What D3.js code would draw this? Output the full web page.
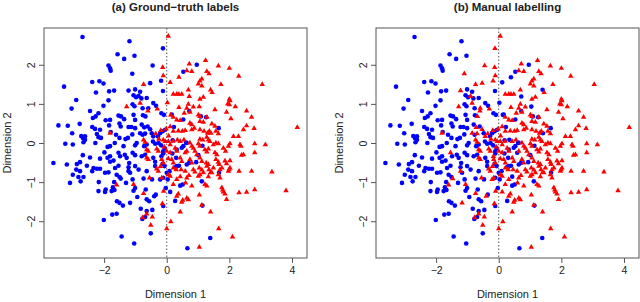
<!DOCTYPE html>
<html>
<head>
<meta charset="utf-8">
<script src="https://cdn.jsdelivr.net/npm/d3@7"></script>
<style>
  body { margin: 0; background: #fff; }
  text { font-family: "Liberation Sans", Arial, sans-serif; fill: #222; }
</style>
</head>
<body>
<div id="chart"></div>
<script>
// titles and tick values
var titles = ["(a) Ground\u2212truth labels", "(b) Manual labelling"];
var xTicks = [-2, 0, 2, 4];
var yTicks = [-2, -1, 0, 1, 2];

// points blue in both panels (ground truth blue, manual blue)
var bothBlue = [
  [-2.69,2.71],[-1.19,2.60],[-1.57,2.27],[-1.03,2.23],[-1.36,2.15],[-1.86,1.98],[-1.81,1.91],[-1.79,1.85],
  [0.96,2.00],[0.53,1.82],[-3.28,1.44],[-2.38,1.56],[-2.15,1.58],[-2.02,1.52],[-2.26,1.29],[-1.84,1.32],
  [-1.68,1.34],[-1.01,1.37],[-0.85,1.31],[-0.12,1.33],[-2.89,1.10],[-3.04,0.88],[-2.45,0.82],[-1.86,1.09],
  [-2.02,0.95],[-1.06,1.22],[-0.98,1.17],[-0.81,1.14],[-0.64,1.15],[-1.09,0.99],[-1.03,0.94],[-0.77,0.89],
  [-0.43,1.02],[-0.34,0.95],[-0.17,0.76],[-0.09,0.72],[-2.18,0.76],[-2.27,0.68],[-2.36,0.64],[-1.95,0.58],
  [-1.81,0.59],[-1.54,0.70],[-1.46,0.68],[-1.36,0.61],[-1.06,0.72],[-1.01,0.59],[-0.76,0.71],[-3.46,0.45],
  [-3.16,0.44],[-2.78,0.49],[-2.38,0.41],[-2.29,0.36],[-2.13,0.34],[-1.84,0.45],[-1.51,0.50],[-1.47,0.42],
  [-1.22,0.41],[-1.13,0.41],[-1.01,0.38],[-0.80,0.47],[-0.61,0.42],[-3.02,0.25],[-2.73,0.18],[-2.68,0.13],
  [-2.61,0.17],[-2.23,0.23],[-2.18,0.15],[-2.10,0.13],[-1.79,0.28],[-1.62,0.21],[-1.51,0.13],[-1.32,0.10],
  [-1.24,0.13],[-1.10,0.22],[-0.77,0.21],[-0.48,0.25],[-0.28,0.17],[-0.21,0.25],[-0.13,0.30],[-0.05,0.34],
  [-3.24,-0.02],[-3.00,-0.04],[-2.66,0.02],[-2.61,0.08],[-2.28,0.00],[-1.89,-0.10],[-1.81,-0.08],[-1.66,0.00],
  [-1.38,-0.08],[-1.01,-0.06],[-0.96,0.00],[-0.72,-0.08],[-0.64,-0.04],[-0.44,0.04],[-0.37,-0.02],[-0.26,0.00],
  [-0.18,-0.06],[-0.07,-0.13],[-0.11,-0.21],[-2.68,-0.31],[-2.45,-0.37],[-2.13,-0.40],[-1.99,-0.24],[-1.89,-0.38],
  [-1.81,-0.34],[-1.70,-0.45],[-1.49,-0.34],[-1.34,-0.30],[-1.28,-0.38],[-1.09,-0.25],[-1.01,-0.31],[-0.80,-0.34],
  [-0.69,-0.30],[-0.43,-0.38],[-0.37,-0.48],[-0.11,-0.27],[0.18,-0.27],[0.32,-0.17],[0.53,-0.08],[0.64,0.00],
  [-3.62,-0.51],[-3.19,-0.55],[-2.87,-0.54],[-2.77,-0.49],[-2.55,-0.58],[-2.34,-0.64],[-2.23,-0.66],[-2.89,-0.68],
  [-2.77,-0.72],[-3.00,-0.81],[-2.82,-0.87],[-2.66,-0.87],[-2.38,-0.72],[-2.13,-0.66],[-1.97,-0.76],[-1.86,-0.75],
  [-1.81,-0.48],[-1.65,-0.64],[-1.54,-0.58],[-1.60,-0.81],[-1.51,-0.87],[-1.22,-0.62],[-1.20,-0.51],[-1.17,-0.76],
  [-1.01,-0.59],[-0.90,-0.68],[-0.64,-0.72],[-0.37,-0.59],[-0.13,-0.53],[-0.07,-0.59],[0.00,-0.76],[0.09,-0.72],
  [0.32,-0.59],[0.39,-0.58],[0.64,-0.55],[0.71,-0.51],[-3.09,-1.02],[-2.75,-0.98],[-2.17,-1.00],[-1.68,-1.00],
  [-1.30,-1.02],[-1.09,-0.93],[-0.74,-0.91],[-0.47,-0.93],[-0.11,-0.89],[0.03,-0.93],[1.67,-0.76],[1.12,-0.98],
  [-2.18,-1.23],[-1.97,-1.25],[-1.95,-1.19],[-1.72,-1.13],[-1.76,-1.23],[-1.67,-1.20],[-1.06,-1.22],[-1.01,-1.15],
  [-0.67,-1.19],[-0.35,-1.32],[-0.03,-1.15],[0.43,-1.09],[0.51,-1.06],[-1.59,-1.49],[-1.51,-1.53],[-1.40,-1.60],
  [-0.94,-1.38],[-0.64,-1.44],[-0.56,-1.49],[-0.11,-1.61],[0.27,-1.48],[-1.74,-1.83],[-1.60,-1.81],[-0.83,-1.68],
  [-0.78,-1.94],[-0.69,-1.89],[-0.64,-1.74],[-0.46,-1.71],[-2.01,-1.97],[-0.51,-2.31],[-1.44,-2.39],[-1.04,-2.57],
  [1.39,-2.43],[0.66,-2.69],[1.66,0.38],[0.16,0.73],[0.72,0.82],[0.53,0.60],[1.09,0.68],[1.26,0.66],
  [0.23,0.41],[0.19,0.07],[0.62,0.01],[0.48,-0.12],[1.14,-0.07],[0.30,-0.38],[1.01,-0.31],[0.94,-0.49],
  [0.30,-0.61],[1.14,-1.60]
];

// ground truth blue, manual red
var blueToRed = [
  [-0.12,2.42],[-0.45,1.98],[-1.10,1.77],[-1.22,1.34],[-0.53,1.53],[-0.18,1.59],[-0.90,1.20],[-0.59,0.89],
  [-0.68,0.68],[-0.72,0.40],[-0.53,0.35],[-0.85,0.25],[-0.69,0.24],[-0.43,0.17],[-1.54,-0.25],[-0.17,-0.34],
  [-1.47,-0.91],[-1.22,-0.72],[-0.21,-0.93],[-0.40,-1.36],[0.11,-1.25],[-1.17,-1.53]
];

// points red in both panels
var bothRed = [
  [0.05,2.73],[-0.13,1.93],[-0.11,1.72],[0.72,2.02],[1.24,2.11],[1.65,1.97],[2.00,1.91],[0.64,1.85],
  [0.80,1.83],[1.28,1.83],[1.35,1.77],[1.06,1.59],[1.12,1.64],[1.01,1.51],[1.12,1.46],[1.73,1.50],
  [2.30,1.71],[3.05,1.50],[-0.74,1.50],[0.21,1.25],[0.32,1.25],[0.39,1.25],[0.48,1.25],[0.69,1.36],
  [1.45,1.29],[1.06,1.12],[1.17,1.17],[2.00,1.12],[2.02,1.08],[1.95,1.00],[2.00,0.98],[2.19,0.93],
  [2.55,0.82],[-1.28,0.93],[-0.85,1.02],[-0.30,0.87],[-0.60,0.82],[0.39,0.91],[0.69,0.99],[0.64,0.89],
  [0.85,0.92],[1.54,0.85],[0.21,0.66],[0.56,0.76],[0.74,0.79],[1.01,0.72],[1.06,0.68],[1.28,0.66],
  [1.91,0.79],[2.05,0.62],[2.71,0.66],[0.32,0.59],[0.43,0.58],[0.74,0.51],[0.80,0.47],[1.06,0.55],
  [1.17,0.53],[1.44,0.49],[1.54,0.43],[2.55,0.44],[2.45,0.34],[2.79,0.37],[4.17,0.40],[-1.81,0.25],
  [-0.02,0.36],[0.11,0.42],[0.21,0.30],[0.37,0.31],[0.50,0.30],[0.59,0.32],[0.80,0.34],[0.88,0.38],
  [1.06,0.34],[1.19,0.30],[1.30,0.25],[1.36,0.30],[1.57,0.30],[1.65,0.24],[1.28,0.15],[1.33,0.08],
  [1.06,0.10],[1.15,0.08],[2.13,0.17],[2.29,0.17],[-0.74,0.08],[-0.69,0.02],[-0.19,0.32],[-0.35,0.24],
  [-0.11,0.08],[-0.05,0.04],[0.05,0.04],[0.11,-0.04],[0.43,0.04],[0.55,0.08],[0.74,0.00],[0.80,-0.08],
  [0.85,-0.13],[1.01,-0.02],[1.06,-0.08],[1.38,0.04],[1.49,-0.04],[1.57,0.00],[1.65,-0.02],[2.02,-0.02],
  [1.97,-0.08],[2.34,-0.04],[2.37,-0.08],[2.81,-0.02],[3.15,-0.04],[-0.25,0.10],[0.06,0.18],[0.20,0.05],
  [-0.64,-0.17],[-0.59,-0.21],[-0.32,-0.15],[-0.27,-0.21],[0.00,-0.21],[0.11,-0.25],[0.27,-0.13],[0.32,-0.21],
  [0.64,-0.21],[0.90,-0.21],[0.96,-0.30],[1.22,-0.17],[1.28,-0.23],[1.33,-0.15],[1.54,-0.25],[1.60,-0.30],
  [1.81,-0.13],[1.88,-0.21],[2.39,-0.31],[2.45,-0.30],[2.81,-0.25],[-0.08,-0.10],[0.05,-0.40],[-0.64,-0.38],
  [-0.59,-0.42],[-0.16,-0.42],[-0.11,-0.51],[0.16,-0.42],[0.21,-0.51],[0.43,-0.38],[0.48,-0.47],[0.74,-0.42],
  [0.80,-0.51],[1.06,-0.38],[1.12,-0.47],[1.26,-0.51],[1.28,-0.59],[1.33,-0.55],[1.57,-0.42],[1.65,-0.49],
  [1.86,-0.46],[1.91,-0.53],[2.02,-0.45],[-0.32,-0.66],[-0.27,-0.72],[-0.20,-0.60],[0.21,-0.64],[0.30,-0.68],
  [0.46,-0.68],[0.59,-0.72],[0.85,-0.68],[0.90,-0.74],[1.04,-0.64],[1.12,-0.69],[1.17,-0.76],[1.35,-0.68],
  [1.40,-0.75],[1.49,-0.64],[1.67,-0.55],[1.70,-0.68],[1.76,-0.64],[1.99,-0.68],[2.02,-0.64],[1.97,-0.72],
  [2.31,-0.72],[2.71,-0.72],[3.36,-0.74],[-0.55,-0.89],[-0.16,-0.89],[0.05,-0.81],[0.11,-0.85],[0.32,-0.93],
  [0.64,-0.89],[0.71,-0.83],[1.01,-0.85],[1.06,-0.81],[1.33,-0.86],[1.44,-0.76],[1.65,-0.81],[1.70,-0.89],
  [-1.60,-1.07],[-1.06,-1.06],[0.21,-1.06],[0.60,-1.02],[0.80,-1.10],[1.22,-1.06],[1.28,-1.10],[1.76,-1.14],
  [1.79,-1.20],[1.81,-1.25],[1.86,-1.30],[2.31,-1.27],[2.55,-1.26],[2.81,-1.19],[3.81,-1.22],[-0.74,-1.29],
  [-0.10,-1.23],[0.32,-1.36],[0.37,-1.30],[0.64,-1.41],[0.69,-1.45],[1.04,-1.33],[1.91,-1.44],[0.48,-1.51],
  [0.51,-1.46],[-0.14,-1.55],[1.12,-1.59],[0.43,-1.76],[1.40,-1.76],[-0.64,-1.81],[-0.46,-1.89],[-0.77,-1.91],
  [0.13,-2.01],[-0.51,-2.10],[0.00,-2.19],[1.66,-2.19],[2.10,-2.40],[1.04,-2.66]
];

// ground truth red, manual blue
var redToBlue = [
  [0.39,1.68],[0.11,1.55],[1.40,1.36],[1.04,0.93],[0.72,1.19],[0.02,1.03],[0.13,0.72],[1.41,0.25],
  [0.34,0.08],[0.59,-0.25],[0.43,-0.86]
];

var W = 640, H = 302;
var svg = d3.select("#chart").append("svg")
  .attr("width", W)
  .attr("height", H);

var x = d3.scaleLinear().domain([-3.92, 4.48]).range([0, 263]);
var y = d3.scaleLinear().domain([-2.94, 2.94]).range([230, 0]);

var triangle = d3.symbol().type(d3.symbolTriangle).size(13);

function drawPanel(left, title, blues, reds) {
  var g = svg.append("g")
    .attr("transform", "translate(" + left + ",28)");

  // dotted zero line
  g.append("line")
    .attr("x1", x(0)).attr("x2", x(0))
    .attr("y1", 0).attr("y2", 230)
    .attr("stroke", "#555")
    .attr("stroke-width", 1)
    .attr("stroke-dasharray", "1.5,2");

  // points: blue circles first, red triangles over them
  g.selectAll("circle.blue")
    .data(blues)
    .enter()
    .append("circle")
    .attr("class", "blue")
    .attr("cx", function(d) { return x(d[0]); })
    .attr("cy", function(d) { return y(d[1]); })
    .attr("r", 2.3)
    .attr("fill", "#0000ff");

  g.selectAll("path.red")
    .data(reds)
    .enter()
    .append("path")
    .attr("class", "red")
    .attr("d", triangle)
    .attr("transform", function(d) { return "translate(" + x(d[0]) + "," + y(d[1]) + ")"; })
    .attr("fill", "#ff0000");

  // box
  g.append("rect")
    .attr("x", 0).attr("y", 0)
    .attr("width", 263).attr("height", 230)
    .attr("fill", "none")
    .attr("stroke", "#555")
    .attr("stroke-width", 1);

  var xAxis = g.append("g")
    .attr("transform", "translate(0,230)")
    .call(d3.axisBottom(x).tickValues(xTicks).tickFormat(d3.format("d")).tickSize(5).tickPadding(4))
    .call(function(a) { a.select(".domain").remove(); });
  xAxis.selectAll("line").attr("stroke", "#555");
  xAxis.selectAll("text")
    .style("font-size", "10.5px")
    .style("font-family", "'Liberation Sans', Arial, sans-serif")
    .attr("fill", "#222");

  var yAxis = g.append("g")
    .call(d3.axisLeft(y).tickValues(yTicks).tickFormat(d3.format("d")).tickSize(5))
    .call(function(a) { a.select(".domain").remove(); });
  yAxis.selectAll("line").attr("stroke", "#555");
  yAxis.selectAll("text")
    .attr("transform", "rotate(-90)")
    .attr("x", 0)
    .attr("y", -9)
    .attr("dy", 0)
    .style("text-anchor", "middle")
    .style("font-size", "10.5px")
    .style("font-family", "'Liberation Sans', Arial, sans-serif")
    .attr("fill", "#222");

  // title
  g.append("text")
    .attr("x", 131.5)
    .attr("y", -17)
    .style("text-anchor", "middle")
    .style("font-weight", "bold")
    .style("font-size", "11.5px")
    .text(title);

  // axis labels
  g.append("text")
    .attr("x", 131.5)
    .attr("y", 270)
    .style("text-anchor", "middle")
    .style("font-size", "11px")
    .text("Dimension 1");

  g.append("text")
    .attr("transform", "translate(-33,115)rotate(-90)")
    .style("text-anchor", "middle")
    .style("font-size", "11px")
    .text("Dimension 2");
}

drawPanel(44, titles[0], bothBlue.concat(blueToRed), bothRed.concat(redToBlue));
drawPanel(376, titles[1], bothBlue.concat(redToBlue), bothRed.concat(blueToRed));
</script>
</body>
</html>
